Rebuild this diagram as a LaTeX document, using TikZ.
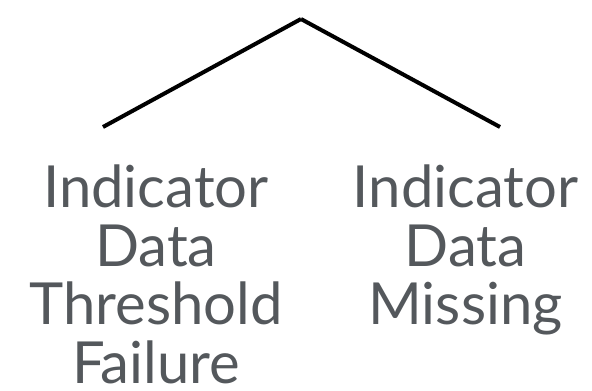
\documentclass[tikz,border=0pt]{standalone}
\usepackage{fontspec}
\setmainfont{Lato}
\definecolor{txtgray}{HTML}{54585C}
\begin{document}
\begin{tikzpicture}[x=1pt,y=-1pt,
  branch/.style={line width=4pt,black},
  label/.style={text=txtgray,font=\fontsize{58}{58.5}\selectfont,align=center,inner sep=0pt,anchor=north}]
\useasboundingbox (0,0) rectangle (592,391);
\coordinate (top) at (301,19);
\coordinate (lend) at (103,127);
\coordinate (rend) at (500,127);
\draw[branch] (top) -- (lend);
\draw[branch] (top) -- (rend);
\node[label] (left) at (156,165) {Indicator\\Data\\Threshold\\Failure};
\node[label] (right) at (465.5,165) {Indicator\\Data\\Missing};
\end{tikzpicture}
\end{document}
